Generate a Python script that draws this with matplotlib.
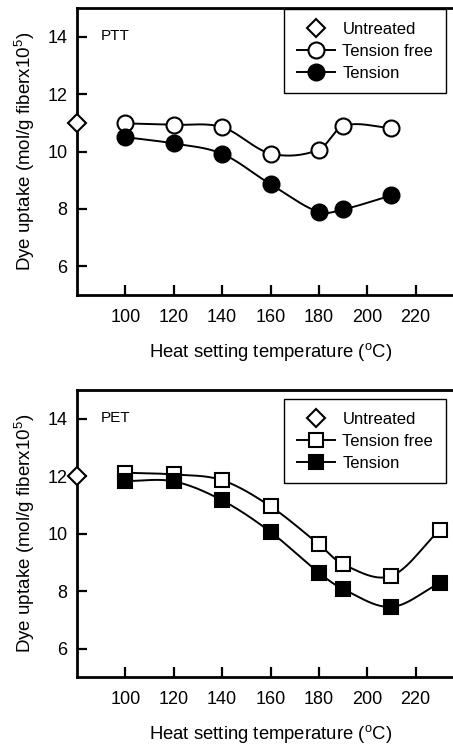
import numpy as np
import matplotlib
matplotlib.use('Agg')
import matplotlib.pyplot as plt
from matplotlib.lines import Line2D

plt.rcParams['font.family'] = ['Liberation Sans', 'DejaVu Sans']
plt.rcParams['mathtext.fontset'] = 'custom'
plt.rcParams['mathtext.rm'] = 'Liberation Sans'
plt.rcParams['mathtext.it'] = 'Liberation Sans:italic'
plt.rcParams['mathtext.bf'] = 'Liberation Sans:bold'

# ---------------- data ----------------
untreated_temp = 80

ptt_temps = [100, 120, 140, 160, 180, 190, 210]
ptt_untreated = 11.0
ptt_tension_free = [10.98, 10.93, 10.85, 9.93, 10.06, 10.89, 10.82]
ptt_tension = [10.50, 10.28, 9.92, 8.86, 7.89, 7.98, 8.47]

pet_temps = [100, 120, 140, 160, 180, 190, 210, 230]
pet_untreated = 12.0
pet_tension_free = [12.12, 12.06, 11.86, 10.95, 9.63, 8.93, 8.53, 10.14]
pet_tension = [11.83, 11.82, 11.16, 10.06, 8.64, 8.07, 7.45, 8.29]

x_ticks = [100, 120, 140, 160, 180, 200, 220]
y_ticks = [6, 8, 10, 12, 14]
legend_labels = ['Untreated', 'Tension free', 'Tension']
panel_names = ['PTT', 'PET']
x_label = 'Heat setting temperature ($^{\\mathrm{o}}$C)'
y_label = 'Dye uptake (mol/g fiberx10$^{5}$)'


def smooth(x, y, n=40):
    """Cubic Hermite curve through the points (finite-difference tangents)."""
    x = np.asarray(x, float)
    y = np.asarray(y, float)
    m = np.empty_like(y)
    m[1:-1] = (y[2:] - y[:-2]) / (x[2:] - x[:-2])
    m[0] = (y[1] - y[0]) / (x[1] - x[0])
    m[-1] = (y[-1] - y[-2]) / (x[-1] - x[-2])
    xs, ys = [], []
    for i in range(len(x) - 1):
        h = x[i + 1] - x[i]
        t = np.linspace(0, 1, n)
        h00 = 2 * t**3 - 3 * t**2 + 1
        h10 = t**3 - 2 * t**2 + t
        h01 = -2 * t**3 + 3 * t**2
        h11 = t**3 - t**2
        xs.append(x[i] + t * h)
        ys.append(h00 * y[i] + h10 * h * m[i] + h01 * y[i + 1] + h11 * h * m[i + 1])
    return np.concatenate(xs), np.concatenate(ys)


W, H = 453, 747
fig = plt.figure(figsize=(W / 100, H / 100), dpi=100)

LW = 1.4
SPW = 2.0
DMS = 8.8


def panel(rect, name, temps, untreated, free, tens, marker, ms, legend_top):
    ax = fig.add_axes(rect)
    ax.set_xlim(80, 240)
    ax.set_ylim(5, 15)
    for s in ['left', 'bottom', 'top', 'right']:
        ax.spines[s].set_linewidth(SPW)
    ax.set_xticks(x_ticks)
    ax.set_yticks(y_ticks)
    ax.tick_params(direction='in', length=7, width=1.6, labelsize=13)
    ax.tick_params(axis='x', pad=10, top=False)
    ax.tick_params(axis='y', pad=7, right=False)

    fx, fy = smooth(temps, free)
    ax.plot(fx, fy, color='black', lw=LW, zorder=2)
    ax.plot(temps, free, linestyle='none', marker=marker, ms=ms, mfc='white',
            mec='black', mew=1.5, zorder=3)
    tx, ty = smooth(temps, tens)
    ax.plot(tx, ty, color='black', lw=LW, zorder=4)
    ax.plot(temps, tens, linestyle='none', marker=marker, ms=ms, mfc='black',
            mec='black', mew=1.5, zorder=5)
    ax.plot([untreated_temp], [untreated], linestyle='none', marker='D', ms=DMS,
            mfc='white', mec='black', mew=1.5, clip_on=False, zorder=6)

    ax.text(0.0995, 0.904, name, transform=ax.transAxes, fontsize=11,
            ha='center', va='center')
    ax.set_xlabel(x_label, fontsize=13.3, labelpad=11)
    ax.set_ylabel(y_label, fontsize=13.5, labelpad=7)

    handles = [
        Line2D([], [], linestyle='none', marker='D', ms=DMS, mfc='white',
               mec='black', mew=1.5),
        Line2D([], [], color='black', lw=LW, marker=marker, ms=ms, mfc='white',
               mec='black', mew=1.5),
        Line2D([], [], color='black', lw=LW, marker=marker, ms=ms, mfc='black',
               mec='black', mew=1.5),
    ]
    leg = fig.legend(handles, legend_labels, loc='upper right',
                     bbox_to_anchor=(445.7 / W, 1 - legend_top / H),
                     bbox_transform=fig.transFigure, borderaxespad=0,
                     fontsize=12, frameon=True, fancybox=False,
                     framealpha=1, edgecolor='black', handlelength=2.3,
                     handletextpad=0.45, labelspacing=0.42, borderpad=0.75)
    leg.get_frame().set_linewidth(1.0)
    return ax


left = 77 / W
width = (464 - 77) / W
panel([left, 1 - 295 / H, width, 287 / H], panel_names[0], ptt_temps,
      ptt_untreated, ptt_tension_free, ptt_tension, 'o', 11.5, 9.3)
panel([left, 1 - 677.3 / H, width, 287.3 / H], panel_names[1], pet_temps,
      pet_untreated, pet_tension_free, pet_tension, 's', 9.5, 399.3)

fig.savefig('out.png', dpi=100)
